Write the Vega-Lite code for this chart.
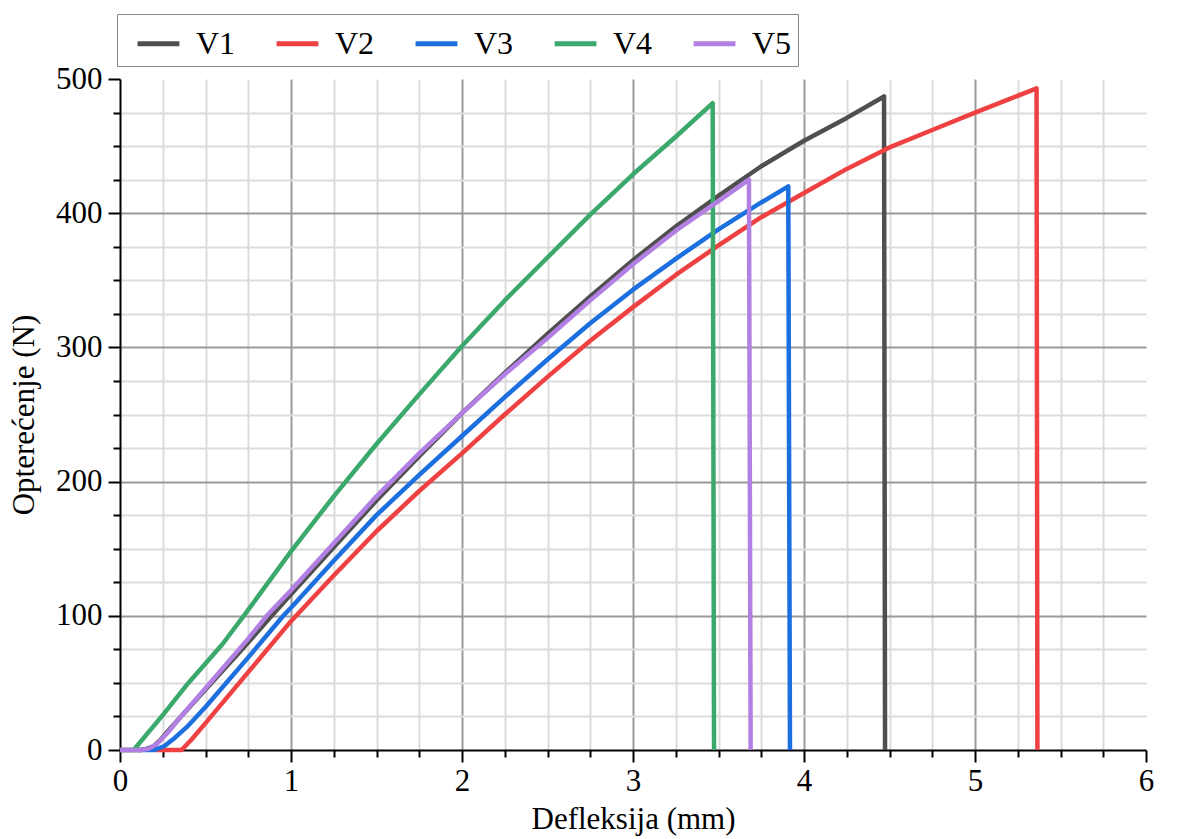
{
  "$schema": "https://vega.github.io/schema/vega-lite/v6.json",
  "autosize": "none",
  "width": 1026,
  "height": 671,
  "padding": {"left": 120, "top": 79, "right": 32, "bottom": 89},
  "background": "white",
  "config": {
    "view": {"stroke": null},
    "font": "Liberation Serif",
    "axis": {
      "labelFont": "Liberation Serif",
      "titleFont": "Liberation Serif",
      "labelFontSize": 31,
      "titleFontSize": 31,
      "titleFontWeight": "normal",
      "labelColor": "black",
      "titleColor": "black",
      "domainColor": "black",
      "domainWidth": 2,
      "tickColor": "black",
      "tickWidth": 2
    },
    "legend": {
      "labelFont": "Liberation Serif",
      "labelFontSize": 32
    }
  },
  "data": {
    "values": [
      {"s": "V1", "x": 0, "y": 0}, {"s": "V1", "x": 0.12, "y": 0}, {"s": "V1", "x": 0.16, "y": 1}, {"s": "V1", "x": 0.2, "y": 3}, {"s": "V1", "x": 0.24, "y": 8}, {"s": "V1", "x": 0.28, "y": 14}, {"s": "V1", "x": 0.35, "y": 24}, {"s": "V1", "x": 0.5, "y": 45}, {"s": "V1", "x": 0.7, "y": 73}, {"s": "V1", "x": 0.887, "y": 100}, {"s": "V1", "x": 1, "y": 116}, {"s": "V1", "x": 1.25, "y": 151}, {"s": "V1", "x": 1.5, "y": 186}, {"s": "V1", "x": 1.75, "y": 219}, {"s": "V1", "x": 2, "y": 251}, {"s": "V1", "x": 2.25, "y": 281}, {"s": "V1", "x": 2.5, "y": 310}, {"s": "V1", "x": 2.75, "y": 338}, {"s": "V1", "x": 3, "y": 365}, {"s": "V1", "x": 3.25, "y": 390}, {"s": "V1", "x": 3.5, "y": 413}, {"s": "V1", "x": 3.75, "y": 435}, {"s": "V1", "x": 4, "y": 454}, {"s": "V1", "x": 4.25, "y": 471}, {"s": "V1", "x": 4.468, "y": 487}, {"s": "V1", "x": 4.474, "y": 0},
      {"s": "V2", "x": 0.2, "y": 0}, {"s": "V2", "x": 0.36, "y": 0}, {"s": "V2", "x": 0.42, "y": 8}, {"s": "V2", "x": 0.5, "y": 20}, {"s": "V2", "x": 0.75, "y": 58}, {"s": "V2", "x": 1, "y": 96}, {"s": "V2", "x": 1.25, "y": 130}, {"s": "V2", "x": 1.5, "y": 163}, {"s": "V2", "x": 1.75, "y": 193}, {"s": "V2", "x": 2, "y": 221}, {"s": "V2", "x": 2.25, "y": 250}, {"s": "V2", "x": 2.5, "y": 278}, {"s": "V2", "x": 2.75, "y": 305}, {"s": "V2", "x": 3, "y": 330}, {"s": "V2", "x": 3.25, "y": 354}, {"s": "V2", "x": 3.5, "y": 376}, {"s": "V2", "x": 3.75, "y": 397}, {"s": "V2", "x": 4, "y": 415}, {"s": "V2", "x": 4.25, "y": 433}, {"s": "V2", "x": 4.5, "y": 449}, {"s": "V2", "x": 4.75, "y": 462}, {"s": "V2", "x": 5, "y": 475}, {"s": "V2", "x": 5.2, "y": 485}, {"s": "V2", "x": 5.36, "y": 493}, {"s": "V2", "x": 5.365, "y": 0},
      {"s": "V3", "x": 0.1, "y": 0}, {"s": "V3", "x": 0.2, "y": 0}, {"s": "V3", "x": 0.26, "y": 3}, {"s": "V3", "x": 0.32, "y": 9}, {"s": "V3", "x": 0.39, "y": 17}, {"s": "V3", "x": 0.5, "y": 32}, {"s": "V3", "x": 0.75, "y": 69}, {"s": "V3", "x": 0.955, "y": 100}, {"s": "V3", "x": 1, "y": 106}, {"s": "V3", "x": 1.25, "y": 141}, {"s": "V3", "x": 1.5, "y": 175}, {"s": "V3", "x": 1.75, "y": 205}, {"s": "V3", "x": 2, "y": 234}, {"s": "V3", "x": 2.25, "y": 263}, {"s": "V3", "x": 2.5, "y": 291}, {"s": "V3", "x": 2.75, "y": 318}, {"s": "V3", "x": 3, "y": 343}, {"s": "V3", "x": 3.25, "y": 366}, {"s": "V3", "x": 3.5, "y": 388}, {"s": "V3", "x": 3.75, "y": 408}, {"s": "V3", "x": 3.908, "y": 420}, {"s": "V3", "x": 3.918, "y": 0},
      {"s": "V4", "x": 0, "y": 0}, {"s": "V4", "x": 0.08, "y": 0}, {"s": "V4", "x": 0.25, "y": 26}, {"s": "V4", "x": 0.4, "y": 50}, {"s": "V4", "x": 0.6, "y": 79}, {"s": "V4", "x": 0.73, "y": 101}, {"s": "V4", "x": 1, "y": 148}, {"s": "V4", "x": 1.25, "y": 189}, {"s": "V4", "x": 1.5, "y": 228}, {"s": "V4", "x": 1.75, "y": 265}, {"s": "V4", "x": 2, "y": 301}, {"s": "V4", "x": 2.25, "y": 335}, {"s": "V4", "x": 2.5, "y": 367}, {"s": "V4", "x": 2.75, "y": 399}, {"s": "V4", "x": 3, "y": 429}, {"s": "V4", "x": 3.25, "y": 457}, {"s": "V4", "x": 3.466, "y": 482}, {"s": "V4", "x": 3.474, "y": 0},
      {"s": "V5", "x": 0, "y": 0}, {"s": "V5", "x": 0.12, "y": 0}, {"s": "V5", "x": 0.17, "y": 1}, {"s": "V5", "x": 0.22, "y": 5}, {"s": "V5", "x": 0.28, "y": 13}, {"s": "V5", "x": 0.35, "y": 24}, {"s": "V5", "x": 0.5, "y": 46}, {"s": "V5", "x": 0.75, "y": 83}, {"s": "V5", "x": 0.858, "y": 100}, {"s": "V5", "x": 1, "y": 119}, {"s": "V5", "x": 1.25, "y": 154}, {"s": "V5", "x": 1.5, "y": 189}, {"s": "V5", "x": 1.75, "y": 221}, {"s": "V5", "x": 2, "y": 251}, {"s": "V5", "x": 2.25, "y": 280}, {"s": "V5", "x": 2.5, "y": 307}, {"s": "V5", "x": 2.75, "y": 335}, {"s": "V5", "x": 3, "y": 362}, {"s": "V5", "x": 3.25, "y": 387}, {"s": "V5", "x": 3.5, "y": 409}, {"s": "V5", "x": 3.678, "y": 425}, {"s": "V5", "x": 3.688, "y": 0}
    ]
  },
  "mark": {"type": "line", "strokeWidth": 4.5, "strokeJoin": "round", "strokeCap": "butt"},
  "encoding": {
    "x": {
      "field": "x",
      "type": "quantitative",
      "scale": {"domain": [0, 6], "nice": false, "zero": false},
      "axis": {
        "title": "Defleksija (mm)",
        "values": [0, 0.25, 0.5, 0.75, 1, 1.25, 1.5, 1.75, 2, 2.25, 2.5, 2.75, 3, 3.25, 3.5, 3.75, 4, 4.25, 4.5, 4.75, 5, 5.25, 5.5, 5.75, 6],
        "labelExpr": "datum.value % 1 === 0 ? format(datum.value, 'd') : ''",
        "labelPadding": 4,
        "labelFlush": false,
        "titlePadding": 8,
        "grid": true,
        "gridColor": {"condition": {"test": "datum.value % 1 === 0", "value": "#9a9a9a"}, "value": "#dcdcdc"},
        "gridOpacity": {"condition": {"test": "datum.value === 6 || datum.value === 0", "value": 0}, "value": 1},
        "gridWidth": 2,
        "tickSize": {"condition": {"test": "datum.value % 1 === 0", "value": 12}, "value": 7}
      }
    },
    "y": {
      "field": "y",
      "type": "quantitative",
      "scale": {"domain": [0, 500], "nice": false},
      "axis": {
        "title": "Opterećenje (N)",
        "values": [0, 25, 50, 75, 100, 125, 150, 175, 200, 225, 250, 275, 300, 325, 350, 375, 400, 425, 450, 475, 500],
        "labelExpr": "datum.value % 100 === 0 ? format(datum.value, 'd') : ''",
        "labelPadding": 6,
        "labelFlush": false,
        "titlePadding": 15,
        "grid": true,
        "gridColor": {"condition": {"test": "datum.value % 100 === 0", "value": "#9a9a9a"}, "value": "#dcdcdc"},
        "gridOpacity": {"condition": {"test": "datum.value === 500 || datum.value === 0", "value": 0}, "value": 1},
        "gridWidth": 2,
        "tickSize": {"condition": {"test": "datum.value % 100 === 0", "value": 12}, "value": 7}
      }
    },
    "color": {
      "field": "s",
      "type": "nominal",
      "scale": {"domain": ["V1", "V2", "V3", "V4", "V5"], "range": ["#4f4f4f", "#ef4141", "#1c6fdf", "#3aa96b", "#b27fe3"]},
      "legend": {
        "title": null,
        "orient": "none",
        "direction": "horizontal",
        "legendX": -3,
        "legendY": -65,
        "symbolType": "stroke",
        "symbolSize": 1750,
        "symbolStrokeWidth": 5,
        "symbolOffset": 12,
        "labelOffset": 14,
        "columnPadding": 26,
        "padding": 6,
        "strokeColor": "#888888",
        "fillColor": "white",
        "labelColor": "black"
      }
    }
  }
}
